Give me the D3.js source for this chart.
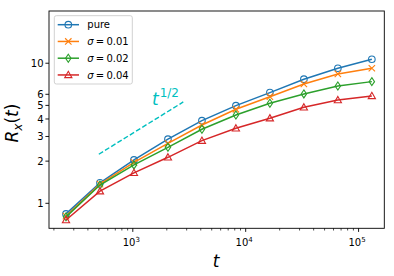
<!DOCTYPE html>
<html><head><meta charset="utf-8">
<script src="https://cdn.jsdelivr.net/npm/d3@7"></script>
<style>
html,body{margin:0;padding:0;background:#fff;}
text{font-family:"DejaVu Sans",sans-serif;}
</style></head>
<body><svg id="c" width="394" height="276"></svg>
<script>
const times = [256, 512, 1024, 2048, 4096, 8192, 16384, 32768, 65536, 131072];
const pure = [0.84, 1.40, 2.04, 2.87, 3.89, 4.98, 6.17, 7.69, 9.21, 10.68];
const sigma001 = [0.81, 1.37, 1.96, 2.68, 3.62, 4.69, 5.77, 7.11, 8.39, 9.21];
const sigma002 = [0.80, 1.35, 1.88, 2.51, 3.38, 4.27, 5.18, 6.04, 6.88, 7.39];
const sigma004 = [0.76, 1.22, 1.65, 2.13, 2.80, 3.43, 4.05, 4.85, 5.46, 5.84];
const seriesNames = ["pure", "σ = 0.01", "σ = 0.02", "σ = 0.04"];
const guideT = [500, 2800];
const guideR = [2.24, 5.29];
const yTickValues = [1, 2, 3, 4, 5, 6, 10];
const xMajorTicks = [1e3, 1e4, 1e5];
const xTickExponents = ["3", "4", "5"];

const colors = ["#1f77b4", "#ff7f0e", "#2ca02c", "#d62728"];
const markers = ["circle", "x", "diamond", "triangle"];
const allSeries = [pure, sigma001, sigma002, sigma004];

const L = 49, R = 384.3, T = 11, B = 228.3;
const svg = d3.select("#c");
const x = d3.scaleLog().domain([181, 169000]).range([L, R]);
const y = d3.scaleLog().domain([0.663, 23.6]).range([B, T]);

// guide line
svg.append("path")
  .attr("d", d3.line().x(d => x(d[0])).y(d => y(d[1]))(guideT.map((t, i) => [t, guideR[i]])))
  .attr("fill", "none").attr("stroke", "#00bfbf").attr("stroke-width", 1.4)
  .attr("stroke-dasharray", "5,2.3");
const gl = svg.append("text").attr("x", 152).attr("y", 104.5).attr("fill", "#00bfbf")
  .style("font-size", "17px");
gl.append("tspan").text("t").style("font-style", "italic");
gl.append("tspan").attr("dy", -7.5).attr("dx", 1).style("font-size", "12px").text("1/2");

// series
function drawMarker(g, type, cx, cy, color) {
  if (type === "circle") {
    g.append("circle").attr("cx", cx).attr("cy", cy).attr("r", 3.3)
      .attr("fill", "none").attr("stroke", color).attr("stroke-width", 1.1);
  } else if (type === "x") {
    const s = 3.2;
    g.append("path").attr("d", `M${cx-s},${cy-s}L${cx+s},${cy+s}M${cx-s},${cy+s}L${cx+s},${cy-s}`)
      .attr("stroke", color).attr("stroke-width", 1.1).attr("fill", "none");
  } else if (type === "diamond") {
    const w = 2.7, h = 4;
    g.append("path").attr("d", `M${cx},${cy-h}L${cx+w},${cy}L${cx},${cy+h}L${cx-w},${cy}Z`)
      .attr("stroke", color).attr("stroke-width", 1.1).attr("fill", "none");
  } else {
    const s = 3.6;
    g.append("path").attr("d", `M${cx},${cy-s}L${cx+s},${cy+s*0.75}L${cx-s},${cy+s*0.75}Z`)
      .attr("stroke", color).attr("stroke-width", 1.1).attr("fill", "none");
  }
}
allSeries.forEach((vals, k) => {
  const g = svg.append("g");
  g.append("path")
    .attr("d", d3.line().x((d, i) => x(times[i])).y(d => y(d))(vals))
    .attr("fill", "none").attr("stroke", colors[k]).attr("stroke-width", 1.5);
  vals.forEach((v, i) => drawMarker(g, markers[k], x(times[i]), y(v), colors[k]));
});

// axes frame
svg.append("rect").attr("x", L).attr("y", T).attr("width", R - L).attr("height", B - T)
  .attr("fill", "none").attr("stroke", "#000").attr("stroke-width", 0.9);

// x ticks
const xMinor = [];
[100, 1000, 10000, 100000].forEach(d => { for (let m = 2; m <= 9; m++) { const v = m * d; if (v > 181 && v < 169000) xMinor.push(v); } });
xMinor.forEach(v => svg.append("line").attr("x1", x(v)).attr("x2", x(v)).attr("y1", B).attr("y2", B + 2.2)
  .attr("stroke", "#000").attr("stroke-width", 0.7));
xMajorTicks.forEach((v, i) => {
  svg.append("line").attr("x1", x(v)).attr("x2", x(v)).attr("y1", B).attr("y2", B + 3.6)
    .attr("stroke", "#000").attr("stroke-width", 0.9);
  const tx = svg.append("text").attr("x", x(v) - 1.5).attr("y", B + 18).attr("text-anchor", "middle")
    .style("font-size", "10px").attr("fill", "#000");
  tx.append("tspan").text("10");
  tx.append("tspan").attr("dy", -4.5).style("font-size", "7px").text(xTickExponents[i]);
});

// y ticks
yTickValues.forEach(v => {
  svg.append("line").attr("x1", L - 3.6).attr("x2", L).attr("y1", y(v)).attr("y2", y(v))
    .attr("stroke", "#000").attr("stroke-width", 0.9);
  svg.append("text").attr("x", L - 5.5).attr("y", y(v) + 3.6).attr("text-anchor", "end")
    .style("font-size", "10px").attr("fill", "#000").text(v);
});

// axis labels
svg.append("text").attr("x", 216).attr("y", 266.5).attr("text-anchor", "middle")
  .style("font-size", "17px").style("font-style", "italic").text("t");
const yl = svg.append("text").attr("transform", "translate(18,123) rotate(-90)").attr("text-anchor", "middle")
  .style("font-size", "17px");
yl.append("tspan").style("font-style", "italic").text("R");
yl.append("tspan").attr("dy", 3.5).style("font-size", "12px").style("font-style", "italic").text("x");
yl.append("tspan").attr("dy", -3.5).text("(");
yl.append("tspan").style("font-style", "italic").text("t");
yl.append("tspan").text(")");

// legend
const lg = svg.append("g");
lg.append("rect").attr("x", 54.3).attr("y", 15.7).attr("width", 78).attr("height", 68.3).attr("rx", 2)
  .attr("fill", "#fff").attr("fill-opacity", 0.8).attr("stroke", "#ccc").attr("stroke-width", 0.9);
seriesNames.forEach((name, k) => {
  const yy = 24.7 + k * 16.75;
  lg.append("line").attr("x1", 57.7).attr("x2", 79).attr("y1", yy).attr("y2", yy)
    .attr("stroke", colors[k]).attr("stroke-width", 1.5);
  drawMarker(lg, markers[k], 68.3, yy, colors[k]);
  const t = lg.append("text").attr("x", 87.3).attr("y", yy + 3.6).style("font-size", "10px").attr("fill", "#000");
  if (k === 0) t.text(name);
  else {
    const parts = name.split(" = ");
    t.append("tspan").style("font-style", "italic").text(parts[0]);
    t.append("tspan").attr("dx", 2.2).text("=");
    t.append("tspan").attr("dx", 2.2).text(parts[1]);
  }
});
</script></body></html>
